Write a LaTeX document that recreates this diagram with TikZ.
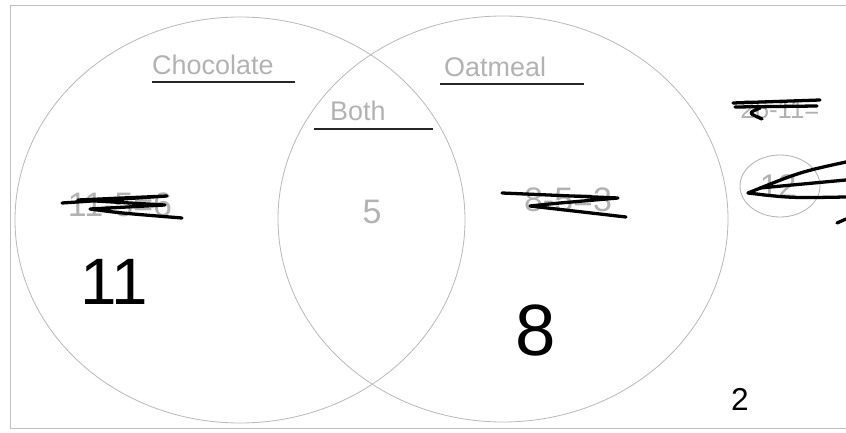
\documentclass[tikz,border=0pt]{standalone}
\usepackage{fontspec}
\setmainfont{Liberation Sans}
\begin{document}
\begin{tikzpicture}[
    x=0.03cm, y=-0.03cm,
    every node/.style={inner sep=0pt},
    ring/.style={draw=gray!55, line width=0.7pt},
    pencil/.style={text=gray!60, font=\fontsize{23}{23}\selectfont},
    sum/.style={text=gray!60, font=\fontsize{29}{29}\selectfont},
    rule/.style={draw=black!85, line width=1.2pt},
    scrib/.style={draw=black, line width=2.8pt, line cap=round, line join=round},
    count/.style={text=black, font=\fontsize{56}{56}\selectfont}
  ]
  \useasboundingbox (0,0) rectangle (846,433);

  % Moldura da folha
  \draw[gray!50, line width=0.8pt] (846,5) -- (10,5) -- (10,428) -- (846,428);

  % Os dois conjuntos
  \draw[ring] (240,220) ellipse [x radius=225, y radius=203];
  \draw[ring] (503,219) ellipse [x radius=225, y radius=203];

  % Titulos sublinhados
  \node[pencil, anchor=base west] (choc) at (152,75) {Chocolate};
  \draw[rule] (152,82) -- (295,82);
  \node[pencil, anchor=base west] (oat) at (444,77) {Oatmeal};
  \draw[rule] (440,84) -- (584,84);
  \node[pencil, anchor=base west] (both) at (330,121) {Both};
  \draw[rule] (314,129) -- (433,129);

  % Contas a lapis
  \node[sum] (inter) at (372,212) {5};
  \node[sum] (leftsum) at (120,205) {11-5=6};
  \node[sum] (rightsum) at (568,200) {8-5=3};
  \node[sum, font=\fontsize{22}{22}\selectfont] (total) at (780,110) {26-11=};
  \node[sum, font=\fontsize{28}{28}\selectfont] (twelve) at (778,186) {12};
  \draw[gray!60, line width=0.7pt] (780,186) ellipse [x radius=40, y radius=31];

  % Rabiscos
  \draw[scrib] (62,203) -- (167,196) -- (78,200) -- (165,205) -- (90,209)
    .. controls (120,213) .. (182,218);
  \draw[scrib] (502,193) -- (618,198) -- (560,203) -- (530,206) -- (626,217);
  \draw[scrib] (733,103) -- (820,100);
  \draw[scrib] (735,107) -- (817,106);
  \draw[scrib] (760,108) .. controls (748,113) .. (762,119);
  \draw[scrib] (748,193) .. controls (800,172) .. (846,162);
  \draw[scrib] (760,188) -- (846,180);
  \draw[scrib] (748,193) .. controls (790,198) .. (846,197);
  \draw[scrib] (846,219) -- (837,223);

  % Totais
  \node[count, anchor=base west] (choconly) at (80,305) {11};
  \node[count, anchor=base west, font=\fontsize{62}{62}\selectfont] (oatonly) at (515,355) {8};
  \node[count, anchor=base west, font=\fontsize{27}{27}\selectfont] (neither) at (731,410) {2};
\end{tikzpicture}
\end{document}
